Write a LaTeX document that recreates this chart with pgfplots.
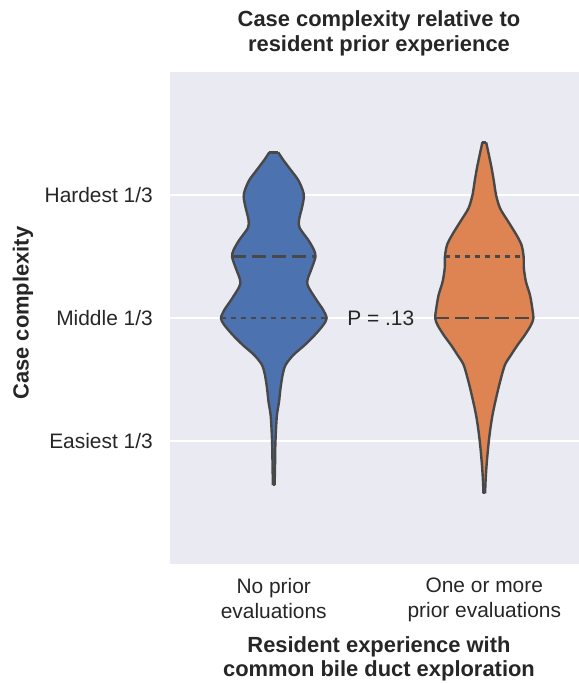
\documentclass[border=0pt]{standalone}
\usepackage{fontspec}
\setmainfont{Liberation Sans}
\usepackage{pgfplots}
\pgfplotsset{compat=1.18}
\usepackage{pgfplotstable}
\usepgfplotslibrary{fillbetween}
\definecolor{sbbg}{RGB}{234,234,242}
\definecolor{sbblue}{RGB}{76,114,176}
\definecolor{sborange}{RGB}{221,132,82}
\definecolor{sbedge}{RGB}{72,72,72}
\definecolor{sbtext}{RGB}{38,38,38}

% half-widths of the violins (v = complexity value, w = half width in category units)
\pgfplotstableread{
v w
0.642 0.004
0.805 0.006
0.941 0.007
1.076 0.010
1.211 0.015
1.320 0.025
1.428 0.032
1.537 0.042
1.618 0.056
1.699 0.093
1.780 0.147
1.862 0.195
1.943 0.235
1.998 0.251
2.065 0.235
2.146 0.203
2.254 0.164
2.309 0.160
2.417 0.183
2.498 0.198
2.553 0.191
2.634 0.164
2.732 0.123
2.797 0.120
2.905 0.135
2.986 0.143
3.041 0.137
3.122 0.116
3.203 0.081
3.285 0.045
3.347 0.021
}\bluetab

\pgfplotstableread{
v w
0.575 0.004
0.669 0.006
0.805 0.011
0.941 0.018
1.076 0.027
1.211 0.039
1.347 0.056
1.482 0.075
1.618 0.098
1.699 0.127
1.780 0.158
1.862 0.193
1.943 0.222
1.998 0.233
2.079 0.228
2.187 0.217
2.295 0.198
2.404 0.188
2.498 0.187
2.593 0.177
2.675 0.153
2.783 0.114
2.892 0.075
3.000 0.056
3.108 0.046
3.217 0.035
3.325 0.022
3.428 0.009
}\orangetab

\begin{document}
\begin{tikzpicture}
\begin{axis}[name=ax, scale only axis, width=409bp, height=492bp,
  xmin=-0.493, xmax=1.45, ymin=0, ymax=4, enlargelimits=false,
  axis background/.style={fill=sbbg},
  axis line style={draw=none},
  major tick style={draw=none}, minor tick style={draw=none},
  ymajorgrids, grid style={white, line width=1.3bp},
  xtick={0,1}, xticklabels={{No prior\\evaluations},{One or more\\prior evaluations}},
  ytick={1,2,3}, yticklabels={Easiest 1/3,Middle 1/3,Hardest 1/3},
  tick label style={font=\fontsize{21}{25}\selectfont, text=sbtext},
  xticklabel style={align=center, anchor=north, inner sep=0pt, yshift=-14bp},
  yticklabel style={anchor=east, inner sep=0pt, xshift=-17bp},
  title={Case complexity relative to\\resident prior experience},
  title style={at={(0.511,1.1132)}, anchor=north, align=center, inner sep=0pt,
    font=\bfseries\fontsize{22}{25}\selectfont, text=sbtext},
  xlabel={Resident experience with\\common bile duct exploration},
  xlabel style={at={(0.511,-0.1463)}, anchor=north, align=center, inner sep=0pt,
    font=\bfseries\fontsize{22}{25}\selectfont, text=sbtext},
  ylabel={Case complexity},
  ylabel style={at={(-0.3594,0.51)}, anchor=center, inner sep=0pt,
    font=\bfseries\fontsize{22}{25}\selectfont, text=sbtext},
]
% blue violin
\addplot[draw=none, name path=bR, smooth] table[x expr=\thisrow{w}, y=v] {\bluetab};
\addplot[draw=none, name path=bL, smooth] table[x expr=-\thisrow{w}, y=v] {\bluetab};
\addplot[fill=sbblue, draw=none] fill between[of=bR and bL, reverse=true];
\addplot[sbedge, line width=2.4bp, smooth] table[x expr=\thisrow{w}, y=v] {\bluetab};
\addplot[sbedge, line width=2.4bp, smooth] table[x expr=-\thisrow{w}, y=v] {\bluetab};
\addplot[sbedge, line width=2.4bp] coordinates {(-0.021,3.347) (0.021,3.347)};
\addplot[sbedge, line width=2.4bp] coordinates {(-0.004,0.642) (0.004,0.642)};
% orange violin
\addplot[draw=none, name path=oR, smooth] table[x expr=1+\thisrow{w}, y=v] {\orangetab};
\addplot[draw=none, name path=oL, smooth] table[x expr=1-\thisrow{w}, y=v] {\orangetab};
\addplot[fill=sborange, draw=none] fill between[of=oR and oL, reverse=true];
\addplot[sbedge, line width=2.4bp, smooth] table[x expr=1+\thisrow{w}, y=v] {\orangetab};
\addplot[sbedge, line width=2.4bp, smooth] table[x expr=1-\thisrow{w}, y=v] {\orangetab};
\addplot[sbedge, line width=2.4bp] coordinates {(0.991,3.428) (1.009,3.428)};
\addplot[sbedge, line width=2.4bp] coordinates {(0.996,0.575) (1.004,0.575)};
% quartile lines
\addplot[sbedge, line width=2.2bp, dash pattern=on 14bp off 6bp] coordinates {(-0.198,2.5) (0.198,2.5)};
\addplot[sbedge, line width=2.2bp, dash pattern=on 5.5bp off 4.5bp] coordinates {(-0.251,2.0) (0.251,2.0)};
\addplot[sbedge, line width=2.2bp, dash pattern=on 5.5bp off 4.5bp] coordinates {(0.813,2.5) (1.187,2.5)};
\addplot[sbedge, line width=2.2bp, dash pattern=on 14bp off 6bp] coordinates {(0.767,2.0) (1.233,2.0)};
\node[font=\fontsize{21}{25}\selectfont, text=sbtext] at (axis cs:0.508,2) {P = .13};
\end{axis}
\pgfresetboundingbox
\path ([shift={(-170bp,-119bp)}]ax.south west) rectangle ([shift={(0bp,72bp)}]ax.north east);
\end{tikzpicture}
\end{document}
